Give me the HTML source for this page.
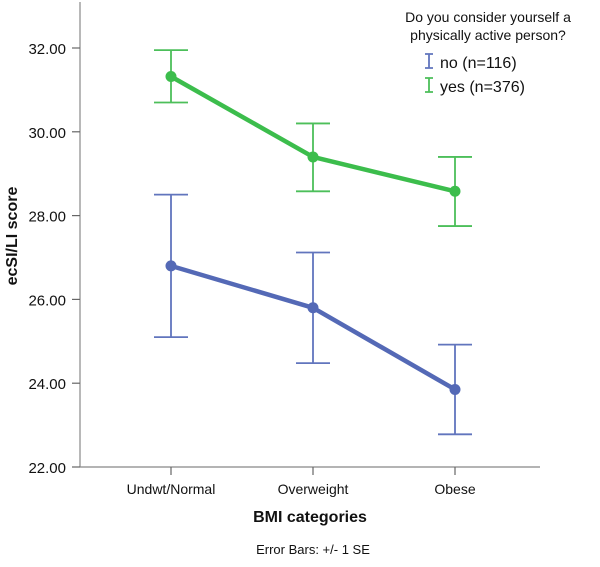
<!DOCTYPE html>
<html><head><meta charset="utf-8"><style>
body{margin:0;background:#fff;width:600px;height:562px;overflow:hidden;font-family:"Liberation Sans",sans-serif}
svg text{font-family:"Liberation Sans",sans-serif}
</style></head><body>
<svg id="chart" width="600" height="562" xmlns="http://www.w3.org/2000/svg"></svg>
<script>
const categories=["Undwt/Normal","Overweight","Obese"];
const noMeans=[26.8,25.8,23.85];
const noUpper=[28.5,27.12,24.92];
const noLower=[25.1,24.48,22.78];
const yesMeans=[31.32,29.4,28.58];
const yesUpper=[31.95,30.2,29.4];
const yesLower=[30.7,28.58,27.75];
const yTicks=[22,24,26,28,30,32];
const tickLabels=["22.00","24.00","26.00","28.00","30.00","32.00"];

const NS="http://www.w3.org/2000/svg";
const svg=document.getElementById('chart');
const y=v=>467-(v-22)*41.9;
const x=i=>171+i*142;
function el(t,a,txt){const e=document.createElementNS(NS,t);for(const k in a)e.setAttribute(k,a[k]);if(txt!=null)e.textContent=txt;svg.appendChild(e);return e;}

let e=el('line',{x1:80,y1:2,x2:80,y2:467,stroke:'#888','stroke-width':1.2});


e=el('line',{x1:80,y1:467,x2:540,y2:467,stroke:'#888','stroke-width':1.2});



yTicks.forEach((v,i)=>{
  let t=el('line',{x1:72,y1:y(v),x2:80,y2:y(v),stroke:'#666','stroke-width':1.2});
  
  
  let l=el('text',{x:66,y:y(v)+6,'text-anchor':'end','font-size':15,fill:'#111'},tickLabels[i]);
  
  
});
categories.forEach((c,i)=>{
  let t=el('line',{x1:x(i),y1:467,x2:x(i),y2:475,stroke:'#666','stroke-width':1.2});
  
  
  let l=el('text',{x:x(i),y:494,'text-anchor':'middle','font-size':14,fill:'#111'},c);
  
  
});

function series(means,up,lo,col,barCol,name){
  means.forEach((m,i)=>{
    let g=el('path',{d:`M${x(i)-17},${y(up[i])}H${x(i)+17}M${x(i)},${y(up[i])}V${y(lo[i])}M${x(i)-17},${y(lo[i])}H${x(i)+17}`,stroke:barCol,'stroke-width':1.8,fill:'none'});
    
    
  });
  let p=el('polyline',{points:means.map((m,i)=>x(i)+','+y(m)).join(' '),stroke:col,'stroke-width':4.5,fill:'none','stroke-linejoin':'round'});
  
  
  means.forEach((m,i)=>{
    let c=el('circle',{cx:x(i),cy:y(m),r:5.5,fill:col});
    
    
  });
}
series(noMeans,noUpper,noLower,'#5469b6','#6175bd','no');
series(yesMeans,yesUpper,yesLower,'#3cbd4c','#4cbf5a','yes');

e=el('text',{transform:'translate(17,236) rotate(-90)','text-anchor':'middle','font-size':16,'font-weight':'bold',fill:'#111'},'ecSI/LI score');


e=el('text',{x:310,y:522,'text-anchor':'middle','font-size':16,'font-weight':'bold',fill:'#111'},'BMI categories');


e=el('text',{x:313,y:554,'text-anchor':'middle','font-size':13,fill:'#111'},'Error Bars: +/- 1 SE');



e=el('text',{x:488,y:22,'text-anchor':'middle','font-size':14,fill:'#111'},'Do you consider yourself a');


e=el('text',{x:488,y:40,'text-anchor':'middle','font-size':14,fill:'#111'},'physically active person?');


[['no  (n=116)','#6175bd',68],['yes (n=376)','#4cbf5a',92]].forEach(([t,c,yy],i)=>{
  let m=el('path',{d:`M425,${yy-14}h8M429,${yy-14}V${yy}M425,${yy}h8`,stroke:c,'stroke-width':1.8,fill:'none'});
  
  
  let l=el('text',{x:440,y:yy,'font-size':16,fill:'#111','xml:space':'preserve'},t);
  
  
});
</script>
</body></html>
